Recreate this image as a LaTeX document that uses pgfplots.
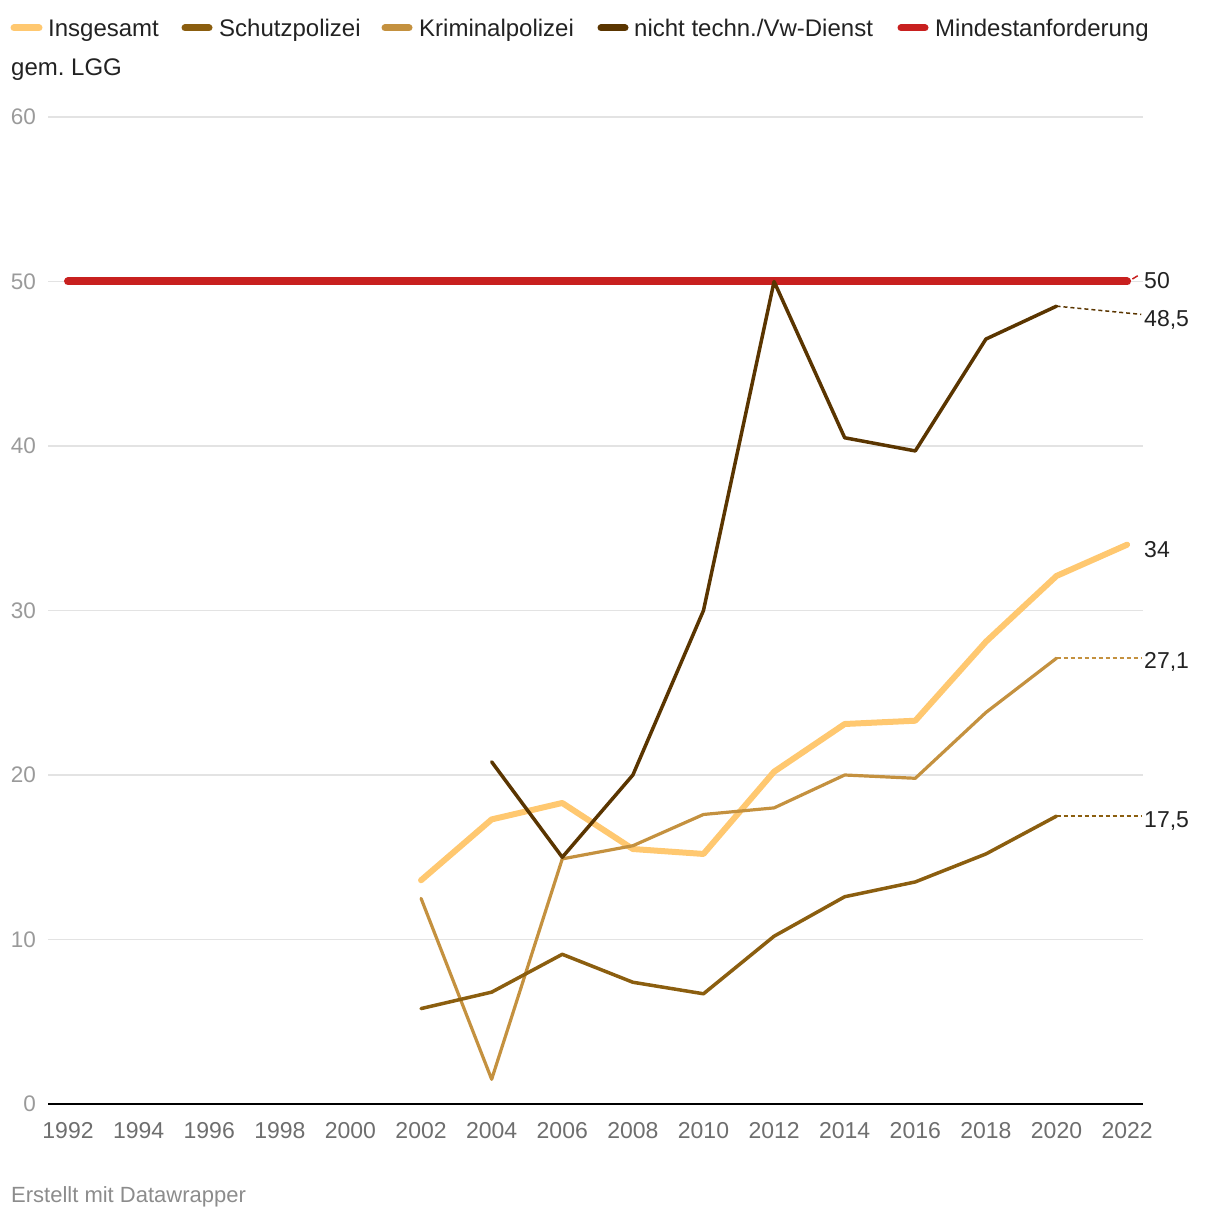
\documentclass[border=0pt]{standalone}
\usepackage{pgfplots}
\pgfplotsset{compat=1.18}
\usepackage{fontspec}
\setmainfont{Liberation Sans}
\frenchspacing
\definecolor{cIns}{HTML}{FFC870}
\definecolor{cSchutz}{HTML}{8B5E0F}
\definecolor{cKrim}{HTML}{C4913F}
\definecolor{cNicht}{HTML}{5A3500}
\definecolor{cRed}{HTML}{C8201F}
\definecolor{cGrid}{HTML}{E3E3E3}
\definecolor{cYtick}{HTML}{9A9A9A}
\definecolor{cXtick}{HTML}{6E6E6E}
\definecolor{cText}{HTML}{222222}
\begin{document}
\begin{tikzpicture}
\path[use as bounding box] (0,0) rectangle (1220pt,1220pt);
\begin{axis}[
  at={(48pt,116pt)}, anchor=south west,
  scale only axis, width=1095pt, height=987pt,
  xmin=1991.433, xmax=2022.45, ymin=0, ymax=60,
  clip=false,
  axis line style={draw=none},
  major tick length=0pt,
  tick style={draw=none},
  ytick={0,10,20,30,40,50,60},
  xtick={1992,1994,...,2022},
  ymajorgrids,
  grid style={color=cGrid, line width=1.5pt},
  extra y ticks={0},
  extra y tick labels={},
  extra y tick style={grid style={color=black, line width=2pt}},
  /pgf/number format/1000 sep={},
  /pgf/number format/assume math mode=true,
  yticklabel style={font=\fontsize{22.5}{26}\selectfont, text=cYtick, anchor=east, inner sep=0pt, xshift=-12pt},
  xticklabel style={font=\fontsize{23}{26}\selectfont, text=cXtick, anchor=north, inner sep=0pt, yshift=-18pt},
]
% Mindestanforderung
\addplot[cRed, line width=8pt, line cap=round] coordinates {(1992,50) (2022,50)};
\addplot[cRed, line width=1.5pt] coordinates {(2022.15,50.15) (2022.3,50.35)};
% Insgesamt
\addplot[cIns, line width=6pt, line cap=round, line join=round] coordinates {
(2002,13.6) (2004,17.3) (2006,18.3) (2008,15.5) (2010,15.2) (2012,20.2) (2014,23.1) (2016,23.3) (2018,28.1) (2020,32.1) (2022,34.0)};
% Kriminalpolizei
\addplot[cKrim, line width=3.2pt, line cap=round, line join=round] coordinates {
(2002,12.5) (2004,1.5) (2006,14.9) (2008,15.7) (2010,17.6) (2012,18.0) (2014,20.0) (2016,19.8) (2018,23.8) (2020,27.1)};
\addplot[cKrim, line width=1.5pt, dash pattern=on 4pt off 3pt] coordinates {(2020,27.1) (2022.4,27.1)};
% Schutzpolizei
\addplot[cSchutz, line width=3.5pt, line cap=round, line join=round] coordinates {
(2002,5.8) (2004,6.8) (2006,9.1) (2008,7.4) (2010,6.7) (2012,10.2) (2014,12.6) (2016,13.5) (2018,15.2) (2020,17.5)};
\addplot[cSchutz, line width=1.5pt, dash pattern=on 4pt off 3pt] coordinates {(2020,17.5) (2022.4,17.5)};
% nicht techn./Vw-Dienst
\addplot[cNicht, line width=3.5pt, line cap=round, line join=round] coordinates {
(2004,20.8) (2006,15.0) (2008,20.0) (2010,30.0) (2012,50.0) (2014,40.5) (2016,39.7) (2018,46.5) (2020,48.5)};
\addplot[cNicht, line width=1.5pt, dash pattern=on 4pt off 3pt] coordinates {(2020,48.5) (2022.4,48.0)};
\end{axis}
% value labels
\begin{scope}[every node/.style={anchor=base west, inner sep=0pt, text=cText, font=\fontsize{23}{27}\selectfont}]
\node at (1144pt,931pt) {50};
\node at (1144pt,893pt) {48,5};
\node at (1144pt,662pt) {34};
\node at (1144pt,551pt) {27,1};
\node at (1144pt,392pt) {17,5};
\end{scope}
% legend
\begin{scope}[every node/.style={anchor=base west, inner sep=0pt, text=cText, font=\fontsize{24}{28}\selectfont}]
\draw[cIns, line width=7pt, line cap=round] (14pt,1192pt) -- (39pt,1192pt);
\node at (48pt,1183.5pt) {Insgesamt};
\draw[cSchutz, line width=7pt, line cap=round] (185pt,1192pt) -- (209pt,1192pt);
\node at (219pt,1183.5pt) {Schutzpolizei};
\draw[cKrim, line width=7pt, line cap=round] (385pt,1192pt) -- (409pt,1192pt);
\node at (419pt,1183.5pt) {Kriminalpolizei};
\draw[cNicht, line width=7pt, line cap=round] (601pt,1192pt) -- (625pt,1192pt);
\node at (634pt,1183.5pt) {nicht techn./Vw-Dienst};
\draw[cRed, line width=7pt, line cap=round] (901pt,1192pt) -- (925pt,1192pt);
\node at (935pt,1183.5pt) {Mindestanforderung};
\node at (11pt,1144.5pt) {gem. LGG};
\end{scope}
\node[anchor=base west, inner sep=0pt, text=gray!90, font=\fontsize{22}{26}\selectfont] at (11pt,17pt) {Erstellt mit Datawrapper};
\end{tikzpicture}
\end{document}
